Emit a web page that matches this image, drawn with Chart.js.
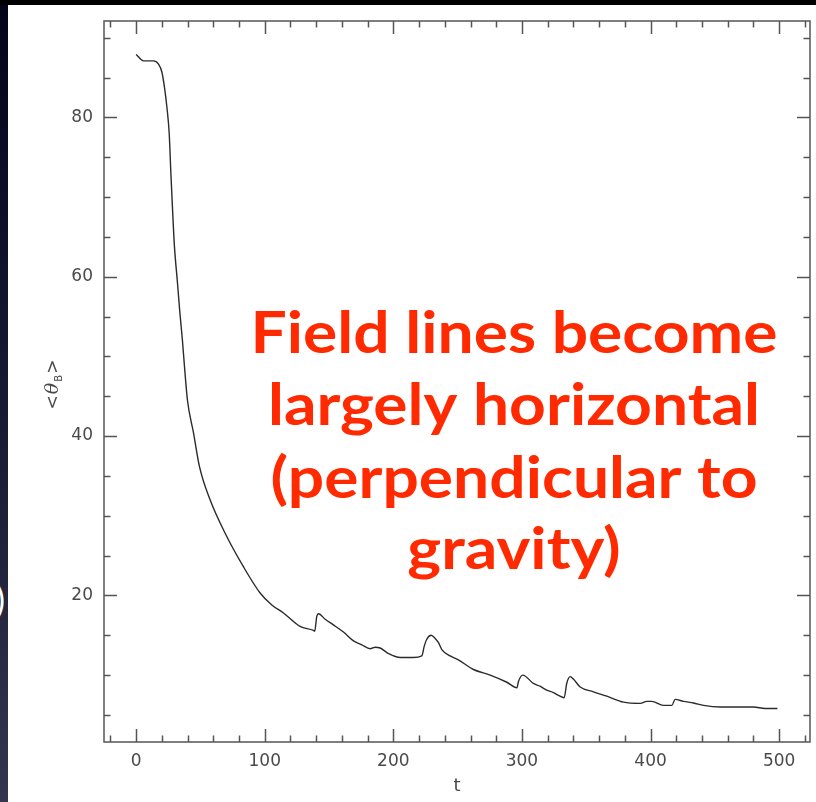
<!DOCTYPE html>
<html>
<head>
<meta charset="utf-8">
<title>theta_B vs t</title>
<script src="https://cdn.jsdelivr.net/npm/chart.js@4.4.1/dist/chart.umd.min.js"></script>
<style>
    html, body { margin: 0; padding: 0; width: 816px; height: 802px; overflow: hidden; background: #000; }
    #strip { position: absolute; left: 0; top: 5px; width: 8px; height: 797px; overflow: hidden;
             background: linear-gradient(#04041a, #1c1d38 60%, #34364f); }
    #strip span { position: absolute; right: 3px; top: 572px; color: #fff; font: 36px "Lato"; }
    #panel { position: absolute; left: 8px; top: 5px; width: 808px; height: 797px; background: #fff; }
</style>
</head>
<body>
<div id="strip"><span>)</span></div>
<div id="panel"><canvas id="thetaChart" width="808" height="797"></canvas></div>
<script>
// mean field-line angle <theta_B> over time
const timeValues = [
    0, 5.7, 13.3, 17.4, 20, 22, 23.9, 25.7, 27, 28.2, 29.8, 32, 34, 36, 37.6, 39.9,
    44.6, 49.2, 57.5, 69.2, 83.4, 96.4, 105.5, 114.5, 127.5, 137.9, 138.8, 140.5, 141.8,
    147, 153.4, 161.2, 169, 175.5, 182, 185.9, 189.7, 196.2, 205.3, 215.6, 222.1, 224,
    226, 229.4, 232.5, 235, 237.7, 244.2, 250.6, 262.3, 275.3, 288.3, 296.1, 297.3,
    300.7, 308.9, 314, 319.3, 324.5, 328.4, 332.8, 334.9, 337.5, 340, 345.3, 355.6,
    366, 379, 392, 397.1, 401, 410, 416.6, 419.1, 425.6, 433.4, 441.2, 454.1, 480,
    489.1, 498.7
];
const thetaValues = [
    87.9, 87.1, 87.1, 86.7, 85.7, 83.8, 81.3, 78, 73, 68.8, 63.75, 59.5, 55.5, 52, 48.7, 44.5,
    40.4, 36.2, 32.0, 27.8, 23.6, 20.3, 18.8, 17.8, 16.1, 15.6, 15.5, 17.4, 17.7,
    17.0, 16.3, 15.4, 14.3, 13.8, 13.3, 13.5, 13.4, 12.7, 12.2, 12.2, 12.4, 13.6,
    14.5, 15.0, 14.6, 14.1, 13.2, 12.4, 11.9, 10.7, 10.0, 9.1, 8.4, 9.2,
    10.0, 8.95, 8.6, 8.1, 7.8, 7.45, 7.15, 9.0, 9.8, 9.5, 8.5, 7.9,
    7.35, 6.6, 6.45, 6.7, 6.7, 6.2, 6.2, 6.95, 6.7, 6.5, 6.2, 6.0, 6.0,
    5.8, 5.8
];
const xMajorTicks = [0, 100, 200, 300, 400, 500];
const yMajorTicks = [20, 40, 60, 80];
const annotationLines = ['Field lines become', 'largely horizontal', '(perpendicular to', 'gravity)'];

const frameColor = '#555';
const labelColor = '#4a4a4a';

// frame with inward ticks on all four sides, axis titles, red note
const framePlugin = {
    id: 'frame',
    afterDatasetsDraw(chart) {
        const { ctx, chartArea: a, scales: { x, y } } = chart;
        ctx.save();
        ctx.strokeStyle = frameColor;
        ctx.lineWidth = 1.5;
        ctx.strokeRect(a.left, a.top, a.right - a.left, a.bottom - a.top);

        ctx.beginPath();
        for (let v = Math.ceil(x.min / 20) * 20; v <= x.max; v += 20) {
            const px = Math.round(x.getPixelForValue(v)) + 0.5;
            const len = v % 100 === 0 ? 13 : 6.5;
            ctx.moveTo(px, a.bottom); ctx.lineTo(px, a.bottom - len);
            ctx.moveTo(px, a.top); ctx.lineTo(px, a.top + len);
        }
        for (let v = Math.ceil(y.min / 5) * 5; v <= y.max; v += 5) {
            const py = Math.round(y.getPixelForValue(v)) + 0.5;
            const len = v % 20 === 0 ? 13 : 6.5;
            ctx.moveTo(a.left, py); ctx.lineTo(a.left + len, py);
            ctx.moveTo(a.right, py); ctx.lineTo(a.right - len, py);
        }
        ctx.stroke();

        // x title
        ctx.fillStyle = labelColor;
        ctx.font = '18px "DejaVu Sans"';
        ctx.textAlign = 'center';
        ctx.textBaseline = 'alphabetic';
        ctx.fillText('t', (a.left + a.right) / 2, 786);

        // y title <theta_B>, rotated
        ctx.translate(44, 379);
        ctx.rotate(-Math.PI / 2);
        ctx.textAlign = 'left';
        const parts = [
            { s: '<', f: '17px "DejaVu Sans"', dy: 0 },
            { s: 'θ', f: 'italic 19px "DejaVu Serif"', dy: 0 },
            { s: 'B', f: '10px "DejaVu Sans"', dy: 4 },
            { s: '>', f: '17px "DejaVu Sans"', dy: 0 }
        ];
        let w = 0;
        parts.forEach(p => { ctx.font = p.f; w += ctx.measureText(p.s).width + 1; });
        let cx = -w / 2;
        parts.forEach(p => {
            ctx.font = p.f;
            ctx.fillText(p.s, cx, 6 + p.dy);
            cx += ctx.measureText(p.s).width + 1;
        });
        ctx.restore();

        // red note, stretched so the first line spans ~527px
        ctx.save();
        ctx.fillStyle = '#ff2a00';
        ctx.font = 'bold 57px Lato';
        ctx.textAlign = 'center';
        ctx.textBaseline = 'alphabetic';
        const sx = 527 / ctx.measureText(annotationLines[0]).width;
        const baselines = [348, 420, 493, 564];
        ctx.translate(506, 0);
        ctx.scale(sx, 1);
        annotationLines.forEach((line, i) => ctx.fillText(line, 0, baselines[i]));
        ctx.restore();
    }
};

const tickFont = { family: 'DejaVu Sans', size: 17 };

new Chart(document.getElementById('thetaChart'), {
    type: 'line',
    data: {
        labels: timeValues,
        datasets: [{
            data: timeValues.map((t, i) => ({ x: t, y: thetaValues[i] })),
            borderColor: '#2b2b2b',
            borderWidth: 1.4,
            pointRadius: 0,
            cubicInterpolationMode: 'monotone',
            fill: false
        }]
    },
    options: {
        responsive: false,
        animation: false,
        devicePixelRatio: 1,
        layout: { padding: { top: 16, right: 6, left: 0, bottom: 0 } },
        plugins: { legend: { display: false }, tooltip: { enabled: false } },
        scales: {
            x: {
                type: 'linear',
                min: -25,
                max: 524,
                grid: { display: false },
                border: { display: false },
                afterBuildTicks: s => { s.ticks = xMajorTicks.map(v => ({ value: v })); },
                afterFit: s => { s.height = 60; s.paddingLeft = 0; s.paddingRight = 0; },
                ticks: { font: tickFont, color: labelColor, padding: 1, maxRotation: 0 }
            },
            y: {
                type: 'linear',
                min: 1.6,
                max: 92.1,
                grid: { display: false },
                border: { display: false },
                afterBuildTicks: s => { s.ticks = yMajorTicks.map(v => ({ value: v })); },
                afterFit: s => { s.width = 96; s.paddingTop = 0; s.paddingBottom = 0; },
                ticks: { font: tickFont, color: labelColor, padding: 3 }
            }
        }
    },
    plugins: [framePlugin]
});
</script>
</body>
</html>
